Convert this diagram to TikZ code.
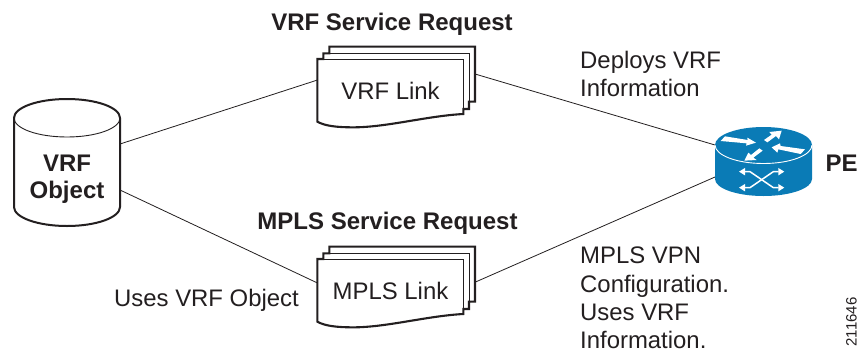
\documentclass[tikz,border=0pt]{standalone}
\usepackage{fontspec}
\setmainfont{Liberation Sans}
\usetikzlibrary{arrows.meta}
\definecolor{routerblue}{HTML}{0A7BB6}
\definecolor{ink}{HTML}{231F20}
\newcommand{\docshape}[2]{%
 \begin{scope}[shift={(#1,#2)},x=0.3333pt,y=0.3333pt,ink,yscale=-1]
  \fill[white] (52,245) -- (52,57) -- (70,57) -- (70,40) -- (88,40) -- (88,20) -- (525,20) -- (525,185) -- (507,185) -- (507,207) -- (490,207) -- (490,222) .. controls (380,228) and (260,262) .. (160,262) .. controls (110,262) and (75,258) .. (52,245) -- cycle;
  \draw[line width=2.1pt,line join=miter] (52,245) -- (52,57) -- (70,57) -- (70,40) -- (88,40) -- (88,20) -- (525,20) -- (525,185) -- (507,185) -- (507,207) -- (490,207) -- (490,222) .. controls (380,228) and (260,262) .. (160,262) .. controls (110,262) and (75,258) .. (52,245) -- cycle;
  \draw[line width=0.8pt] (88,40) -- (507,40) -- (507,185);
  \draw[line width=0.8pt] (70,57) -- (490,57) -- (490,207);
 \end{scope}}
\tikzset{
 label/.style={font=\fontsize{23.9}{29}\selectfont,text=ink,inner sep=0pt,anchor=base west},
 title/.style={font=\fontsize{24}{27}\selectfont\bfseries,text=ink,inner sep=0pt,anchor=base},
 conn/.style={draw=ink,line width=0.8pt},
 whitearrow/.style={fill=white,draw=none},
 switcharrow/.style={white,line width=1.5pt,{Triangle[width=7pt,length=6pt]}-{Triangle[width=7pt,length=6pt]}},
}
\begin{document}
\begin{tikzpicture}[x=1pt,y=-1pt]
\useasboundingbox (0,0) rectangle (858,351);
\fill[white] (0,0) rectangle (858,351);

% connector end points, on the shapes' outlines
\coordinate (cylA) at (120,144);
\coordinate (cylB) at (120,190);
\coordinate (vrfL) at (317.5,80);
\coordinate (vrfR) at (475,74);
\coordinate (mplsL) at (317.5,283);
\coordinate (mplsR) at (475.5,282);
\coordinate (peA) at (715,145);
\coordinate (peB) at (715,177);
\draw[conn] (cylA) -- (vrfL);
\draw[conn] (cylB) -- (mplsL);
\draw[conn] (vrfR) -- (peA);
\draw[conn] (mplsR) -- (peB);

% database cylinder
\draw[ink,line width=2pt,fill=white] (14,118) -- (14,207) arc[start angle=180,end angle=0,x radius=53,y radius=19] -- (120,118) arc[start angle=0,end angle=-180,x radius=53,y radius=19] -- cycle;
\draw[ink,line width=0.9pt] (14,118) arc[start angle=180,end angle=0,x radius=53,y radius=19];
\node[title] (cyl1) at (67,171) {VRF};
\node[title] (cyl2) at (67,198) {Object};

% stacked documents
\docshape{300}{40}
\docshape{300}{240}
\node[label,anchor=base] (vrf) at (390.5,99) {VRF Link};
\node[label,anchor=base] (mpls) at (390.5,299) {MPLS Link};

% router
\fill[routerblue] (715,145) -- (715,179) arc[start angle=180,end angle=0,x radius=48.5,y radius=17] -- (812,145) arc[start angle=0,end angle=-180,x radius=48.5,y radius=18] -- cycle;
\draw[white,line width=0.9pt] (715,145) arc[start angle=180,end angle=0,x radius=48.5,y radius=18.5];
\begin{scope}[shift={(690,110)},x=0.3333pt,y=0.3333pt,yscale=-1]
 \fill[whitearrow] (105,79) -- (173,90) -- (172,83) -- (198,98) -- (168,107) -- (170,100) -- (92,93) -- cycle;
 \fill[whitearrow] (222,90) -- (245,74) -- (238,66) -- (275,62) -- (267,88) -- (258,78) -- (232,97) -- cycle;
 \fill[whitearrow] (345,118) -- (272,108) -- (270,100) -- (245,112) -- (262,128) -- (265,118) -- (332,132) -- cycle;
 \fill[whitearrow] (208,115) -- (218,122) -- (190,143) -- (200,150) -- (163,152) -- (175,128) -- (183,135) -- cycle;
 \draw[switcharrow] (147,185) -- (180,185) -- (250,233) -- (283,233);
 \draw[switcharrow] (147,233) -- (180,233) -- (250,185) -- (283,185);
\end{scope}

% labels
\node[title] (t1) at (392,30) {VRF Service Request};
\node[title] (t2) at (387.5,229) {MPLS Service Request};
\node[label] (d1) at (580,68.5) {Deploys VRF};
\node[label] (d2) at (580,96.5) {Information};
\node[label] (m1) at (580,263) {MPLS VPN};
\node[label] (m2) at (580,292) {Configuration.};
\node[label] (m3) at (580,320) {Uses VRF};
\node[label] (m4) at (580,348) {Information.};
\node[label] (u) at (114,306.5) {Uses VRF Object};
\node[title,anchor=base west] (pe) at (825.5,171) {PE};
\node[label,font=\fontsize{15}{18}\selectfont,rotate=90,anchor=base] (num) at (856.5,322) {211646};
\end{tikzpicture}
\end{document}
